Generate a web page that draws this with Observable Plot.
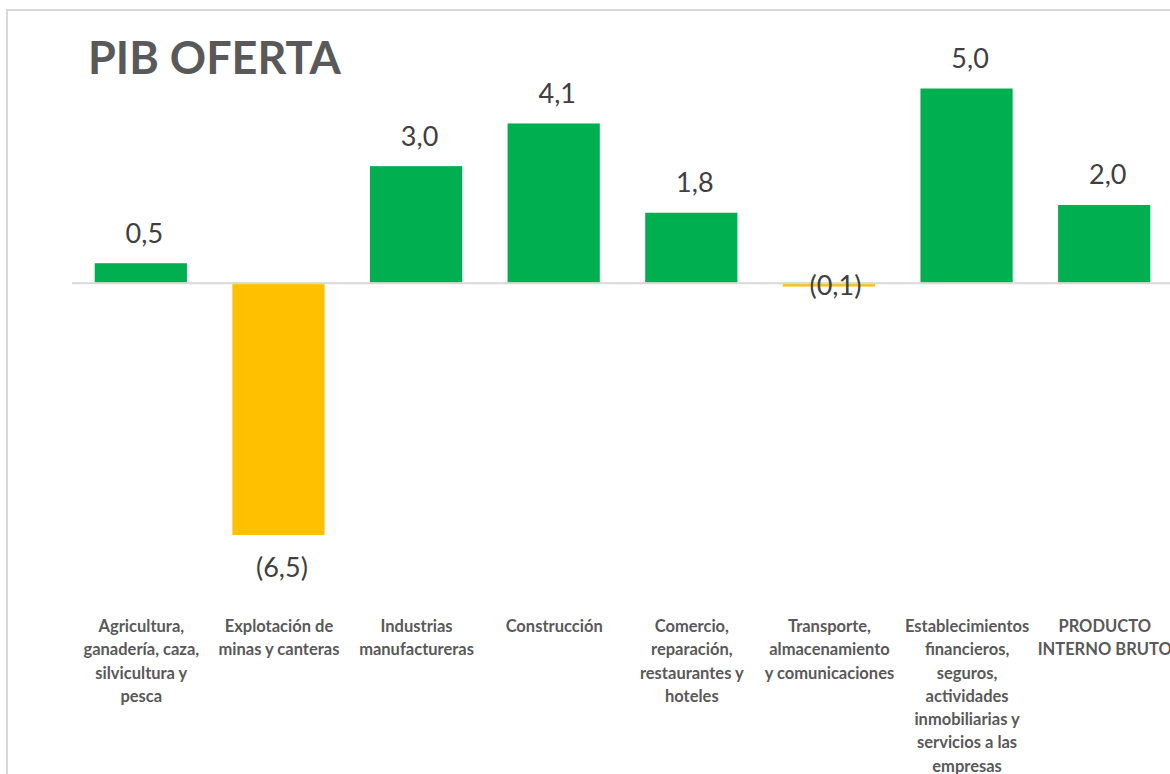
<!DOCTYPE html>
<html>
<head>
<meta charset="utf-8">
<script src="https://cdn.jsdelivr.net/npm/d3@7"></script>
<script src="https://cdn.jsdelivr.net/npm/@observablehq/plot@0.6"></script>
<style>
  html, body { margin: 0; padding: 0; background: #fff; overflow: hidden; }
  #wrap { position: relative; width: 1170px; height: 774px; overflow: hidden; }
  #frame { position: absolute; left: 6px; top: 9px; width: 1300px; height: 900px;
           border: 2px solid #d9d9d9; box-sizing: border-box; pointer-events: none; }
  #title { position: absolute; left: 88px; top: 35px; margin: 0;
           font: bold 45px/44px Lato, "Open Sans", sans-serif; color: #595959; white-space: nowrap; }
  #chart { position: absolute; left: 0; top: 0; }
</style>
</head>
<body>
<div id="wrap">
  <div id="frame"></div>
  <div id="chart"></div>
  <h1 id="title">PIB OFERTA</h1>
</div>
<script>
const categories = [
  "Agricultura, ganadería, caza, silvicultura y pesca",
  "Explotación de minas y canteras",
  "Industrias manufactureras",
  "Construcción",
  "Comercio, reparación, restaurantes y hoteles",
  "Transporte, almacenamiento y comunicaciones",
  "Establecimientos financieros, seguros, actividades inmobiliarias y servicios a las empresas",
  "PRODUCTO INTERNO BRUTO"
];
const values = [0.5, -6.5, 3.0, 4.1, 1.8, -0.1, 5.0, 2.0];
const tickLabels = [
  "Agricultura,\nganadería, caza,\nsilvicultura y\npesca",
  "Explotación de\nminas y canteras",
  "Industrias\nmanufactureras",
  "Construcción",
  "Comercio,\nreparación,\nrestaurantes y\nhoteles",
  "Transporte,\nalmacenamiento\ny comunicaciones",
  "Establecimientos\nfinancieros,\nseguros,\nactividades\ninmobiliarias y\nservicios a las\nempresas",
  "PRODUCTO\nINTERNO BRUTO"
];

const data = categories.map((c, i) => ({category: c, value: values[i]}));
const fmt = v => {
  const s = Math.abs(v).toFixed(1).replace(".", ",");
  return v < 0 ? `(${s})` : s;
};
const GREEN = "#00B050", YELLOW = "#FFC000";

const chart = Plot.plot({
  width: 1170,
  height: 774,
  marginLeft: 72,
  marginRight: 0,
  marginTop: 0,
  marginBottom: 164,
  style: {fontFamily: "Lato, 'Open Sans', sans-serif", background: "transparent"},
  x: {domain: categories, range: [72, 1173], paddingInner: 0.33, paddingOuter: 0.165, round: false},
  y: {domain: [-6.5, 5], range: [535, 88.5], axis: null},
  marks: [
    Plot.barY(data, {x: "category", y: "value", fill: d => d.value < 0 ? YELLOW : GREEN}),
    Plot.ruleY([0], {stroke: "#d9d9d9", strokeWidth: 2}),
    Plot.text(data.filter(d => d.value >= 0), {
      x: "category", y: "value", text: d => fmt(d.value),
      lineAnchor: "bottom", dy: -21, dx: 3, fontSize: 27, fill: "#404040"
    }),
    Plot.text(data.filter(d => d.value < -1), {
      x: "category", y: "value", text: d => fmt(d.value),
      lineAnchor: "bottom", dy: 41, dx: 3, fontSize: 27, fill: "#404040"
    }),
    Plot.text(data.filter(d => d.value < 0 && d.value >= -1), {
      x: "category", y: "value", text: d => fmt(d.value),
      lineAnchor: "bottom", dy: 8, dx: 6, fontSize: 27, fill: "#404040"
    }),
    Plot.axisX({
      anchor: "bottom", tickSize: 0, tickPadding: 5,
      tickFormat: d => tickLabels[categories.indexOf(d)],
      fontSize: 16.5, fontWeight: "bold", fill: "#595959", lineHeight: 1.41,
      label: null
    })
  ]
});
document.getElementById("chart").appendChild(chart);
</script>
</body>
</html>
